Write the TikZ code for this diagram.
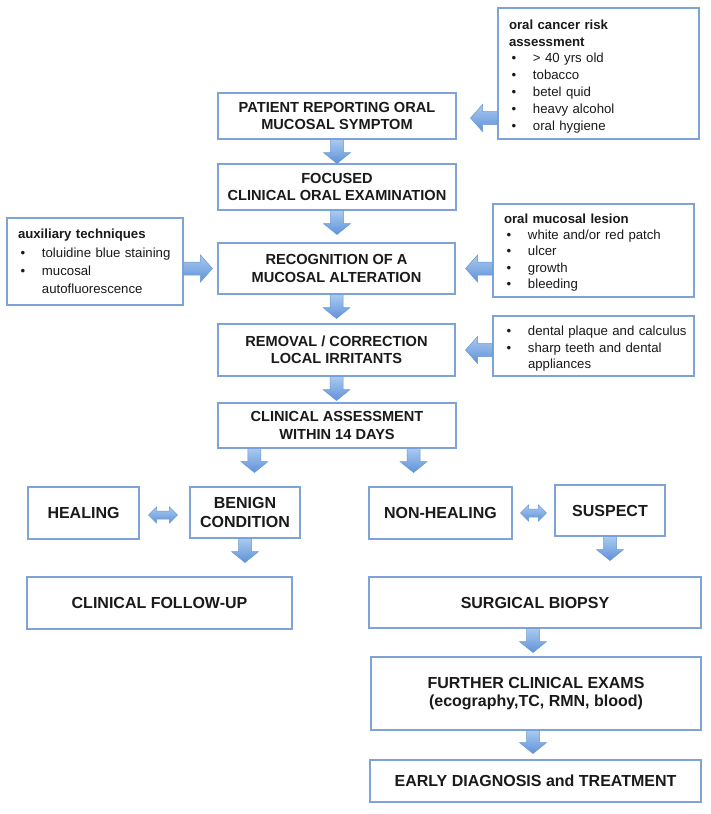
\documentclass[tikz,border=0pt]{standalone}
\usepackage{fontspec}
\setmainfont{Liberation Sans}
\usetikzlibrary{calc,shadows}
\definecolor{boxblue}{HTML}{7EA3D8}
\definecolor{arrowedge}{HTML}{6A98D6}
\definecolor{arrowtop}{HTML}{AACAF0}
\definecolor{arrowbot}{HTML}{5F92D8}
\definecolor{txt}{HTML}{1A1A1A}
\newcommand{\bulitem}[1]{\mbox{\makebox[24pt][l]{\hspace{2.5pt}\textbullet}#1}}
\newcommand{\blkdown}[2]{\path[barrow] let \p1=#1, \p2=#2 in
  (\x1-6.5pt,\y1) -- (\x1+6.5pt,\y1) -- (\x1+6.5pt,\y2+11pt) -- (\x1+13.5pt,\y2+11pt)
  -- (\x1,\y2) -- (\x1-13.5pt,\y2+11pt) -- (\x1-6.5pt,\y2+11pt) -- cycle;}
\newcommand{\blkleft}[2]{\path[barrow] let \p1=#1, \p2=#2 in
  (\x1,\y1-6.5pt) -- (\x2+12pt,\y1-6.5pt) -- (\x2+12pt,\y1-13.5pt) -- (\x2,\y1)
  -- (\x2+12pt,\y1+13.5pt) -- (\x2+12pt,\y1+6.5pt) -- (\x1,\y1+6.5pt) -- cycle;}
\newcommand{\blkright}[2]{\path[barrow] let \p1=#1, \p2=#2 in
  (\x1,\y1-6.5pt) -- (\x2-12pt,\y1-6.5pt) -- (\x2-12pt,\y1-13.5pt) -- (\x2,\y1)
  -- (\x2-12pt,\y1+13.5pt) -- (\x2-12pt,\y1+6.5pt) -- (\x1,\y1+6.5pt) -- cycle;}
\newcommand{\blkboth}[2]{\path[barrow] let \p1=#1, \p2=#2 in
  (\x1,\y1) -- (\x1+8pt,\y1+8pt) -- (\x1+8pt,\y1+4pt) -- (\x2-8pt,\y1+4pt) -- (\x2-8pt,\y1+8pt)
  -- (\x2,\y1) -- (\x2-8pt,\y1-8pt) -- (\x2-8pt,\y1-4pt) -- (\x1+8pt,\y1-4pt) -- (\x1+8pt,\y1-8pt) -- cycle;}
\tikzset{
  box/.style={draw=boxblue, line width=1.1pt, fill=white, inner sep=0pt, text=txt,
    drop shadow={shadow xshift=1.3pt, shadow yshift=-1.3pt, opacity=0.3, fill=black!50}},
  mainbox/.style={box, align=center, font=\fontsize{14.6}{17.3}\selectfont\bfseries},
  lowbox/.style={box, align=center, font=\fontsize{16}{18.3}\selectfont\bfseries},
  listbox/.style={box, align=left, inner xsep=11pt, font=\fontsize{13.2}{16.4}\selectfont},
  barrow/.style={draw=arrowedge, line width=0.5pt, top color=arrowtop, bottom color=arrowbot},
}
\begin{document}
\begin{tikzpicture}[x=1pt,y=-1pt]
\fill[white] (0,0) rectangle (710,814);
\useasboundingbox (0,0) rectangle (710,814);

% side boxes
\node[listbox, text width=179, minimum height=131, font=\fontsize{13.2}{16.9}\selectfont] (risk) at (598.5,73.5)
  {\rule{0pt}{15.5pt}\textbf{oral cancer risk}\\\textbf{assessment}\\\bulitem{> 40 yrs old}\\\bulitem{tobacco}\\\bulitem{betel quid}\\\bulitem{heavy alcohol}\\\bulitem{oral hygiene}};
\node[listbox, text width=154, minimum height=87, font=\fontsize{13.2}{18.3}\selectfont] (aux) at (95,261.5)
  {\textbf{auxiliary techniques}\\\bulitem{toluidine blue staining}\\\bulitem{mucosal}\\\hspace*{24pt}autofluorescence};
\node[listbox, text width=179, minimum height=93] (lesion) at (593.5,250.5)
  {\rule{0pt}{13.5pt}\textbf{oral mucosal lesion}\\\bulitem{white and/or red patch}\\\bulitem{ulcer}\\\bulitem{growth}\\\bulitem{bleeding}};
\node[listbox, text width=179, minimum height=60] (dental) at (593.5,346)
  {\rule{0pt}{15.5pt}\bulitem{dental plaque and calculus}\\\bulitem{\makebox[155pt][s]{sharp teeth and dental}}\\\hspace*{24pt}appliances};

% main column
\node[mainbox, minimum width=238, minimum height=46] (patient) at (337,116) {PATIENT REPORTING ORAL\\MUCOSAL SYMPTOM};
\node[mainbox, minimum width=238, minimum height=46] (focused) at (337,187) {FOCUSED\\CLINICAL ORAL EXAMINATION};
\node[mainbox, minimum width=237, minimum height=51] (recog) at (336.5,268.5) {RECOGNITION OF A\\MUCOSAL ALTERATION};
\node[mainbox, minimum width=237, minimum height=52] (removal) at (336.5,350) {REMOVAL / CORRECTION\\LOCAL IRRITANTS};
\node[mainbox, minimum width=238, minimum height=45] (clinical) at (337,425.5) {CLINICAL ASSESSMENT\\WITHIN 14 DAYS};

% lower part
\node[lowbox, minimum width=111, minimum height=52] (healing) at (83.5,513) {HEALING};
\node[lowbox, minimum width=110, minimum height=51] (benign) at (245,512.5) {BENIGN\\CONDITION};
\node[lowbox, minimum width=265, minimum height=52] (followup) at (159.5,603) {CLINICAL FOLLOW-UP};
\node[lowbox, minimum width=143, minimum height=52] (nonheal) at (440.5,513) {NON-HEALING};
\node[lowbox, minimum width=110, minimum height=51] (suspect) at (610,510.5) {SUSPECT};
\node[lowbox, minimum width=332, minimum height=51] (biopsy) at (535,602.5) {SURGICAL BIOPSY};
\node[lowbox, minimum width=330, minimum height=73] (further) at (536,693.5) {FURTHER CLINICAL EXAMS\\(ecography,TC, RMN, blood)};
\node[lowbox, minimum width=331, minimum height=42] (early) at (535.5,781) {EARLY DIAGNOSIS and TREATMENT};

% arrows
\blkleft{($(risk.west |- patient.east)+(0,2)$)}{($(patient.east)+(14,2)$)}
\blkleft{(lesion.west |- recog.east)}{($(recog.east)+(10,0)$)}
\blkleft{(dental.west |- removal.east)}{($(removal.east)+(10,0)$)}
\blkright{(aux.east |- recog.west)}{($(recog.west)+(-5,0)$)}

\blkdown{(patient.south)}{($(patient.south)+(0,24)$)}
\blkdown{(focused.south)}{($(focused.south)+(0,24)$)}
\blkdown{(recog.south)}{($(recog.south)+(0,24)$)}
\blkdown{(removal.south)}{($(removal.south)+(0,24)$)}
\blkdown{($(clinical.south west)+(37,0)$)}{($(clinical.south west)+(37,24)$)}
\blkdown{($(clinical.south east)+(-43,0)$)}{($(clinical.south east)+(-43,24)$)}
\blkdown{(benign.south)}{($(benign.south)+(0,24)$)}
\blkdown{(suspect.south)}{($(suspect.south)+(0,24)$)}
\blkdown{($(biopsy.south)+(-2,0)$)}{($(biopsy.south)+(-2,24)$)}
\blkdown{($(further.south)+(-3,0)$)}{($(further.south)+(-3,23)$)}

\blkboth{($(healing.east)+(9,2)$)}{($(benign.west)+(-12,2)$)}
\blkboth{($(nonheal.east)+(8,0)$)}{($(suspect.west)+(-8,0)$)}
\end{tikzpicture}
\end{document}
